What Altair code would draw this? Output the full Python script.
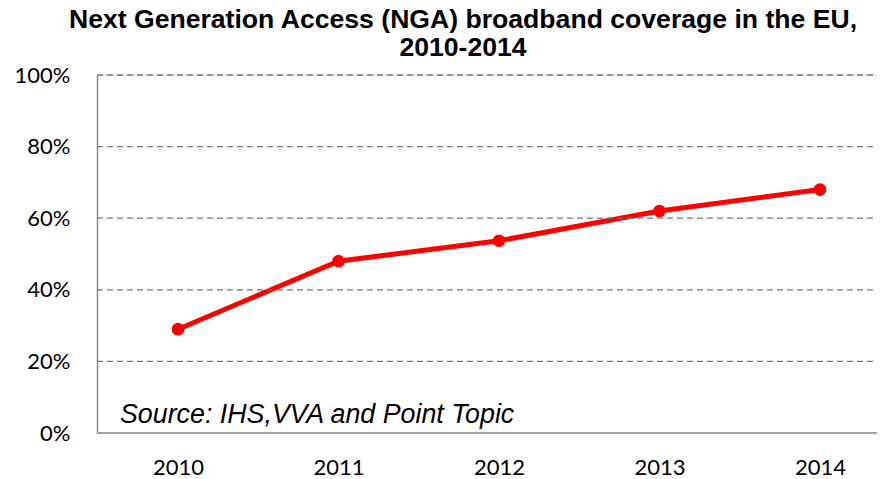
import altair as alt
import pandas as pd

years = ["2010", "2011", "2012", "2013", "2014"]
coverage = [0.29, 0.48, 0.537, 0.62, 0.68]
y_ticks = [0, 0.2, 0.4, 0.6, 0.8, 1.0]
title_lines = ["Next Generation Access (NGA) broadband coverage in the EU,", "2010-2014"]
source_note = "Source: IHS,VVA and Point Topic"

W, H = 780, 358

df = pd.DataFrame({"year": years, "coverage": coverage})
grid_df = pd.DataFrame({"coverage": [t for t in y_ticks if t > 0]})
base_df = pd.DataFrame({"coverage": [0.0]})

x = alt.X("year:N", title=None,
          scale=alt.Scale(type="point", range=[81, 723], padding=0),
          axis=alt.Axis(labelAngle=0, ticks=False, domain=False,
                        labelFont="Lato", labelFontSize=22,
                        labelColor="#000000", labelPadding=24, grid=False))
yscale = alt.Scale(domain=[0, 1], nice=False)
yaxis = alt.Axis(values=y_ticks, format=".0%", ticks=False, domain=True,
                 domainColor="#888888", domainWidth=1.5,
                 labelFont="Lato", labelFontSize=22,
                 labelColor="#000000", labelPadding=27, grid=False)
y = alt.Y("coverage:Q", title=None, scale=yscale, axis=yaxis)

line = alt.Chart(df).mark_line(color="#FF0000", strokeWidth=5).encode(x=x, y=y)
grid = alt.Chart(grid_df).mark_rule(color="#777777", strokeWidth=1.3, strokeDash=[6, 4]).encode(
    y=y, x=alt.value(0), x2=alt.value(W))
baseline = alt.Chart(base_df).mark_rule(color="#888888", strokeWidth=1.5).encode(
    y=y, x=alt.value(0), x2=alt.value(W))
pts = alt.Chart(df).mark_point(filled=True, color="#FF0000", size=160, opacity=1).encode(x=x, y=y)
note = alt.Chart(pd.DataFrame({"t": [source_note]})).mark_text(
    align="left", baseline="alphabetic", font="Liberation Sans", fontStyle="italic",
    fontSize=26.8, color="#000000").encode(text="t:N", x=alt.value(23), y=alt.value(348))

chart = alt.layer(line, grid, baseline, pts, note).properties(
    width=W, height=H,
    autosize=alt.AutoSizeParams(type="none"),
    padding={"left": 89, "top": 67, "right": 0, "bottom": 50},
    title=alt.TitleParams(text=title_lines, font="Liberation Sans", fontSize=26.6,
                          fontWeight="bold", color="#000000", anchor="middle",
                          frame="group", dx=-24, offset=2, lineHeight=28),
).configure_view(stroke=None).configure(background="white")

chart.save("out.html", embed_options={"renderer": "svg", "actions": False})
